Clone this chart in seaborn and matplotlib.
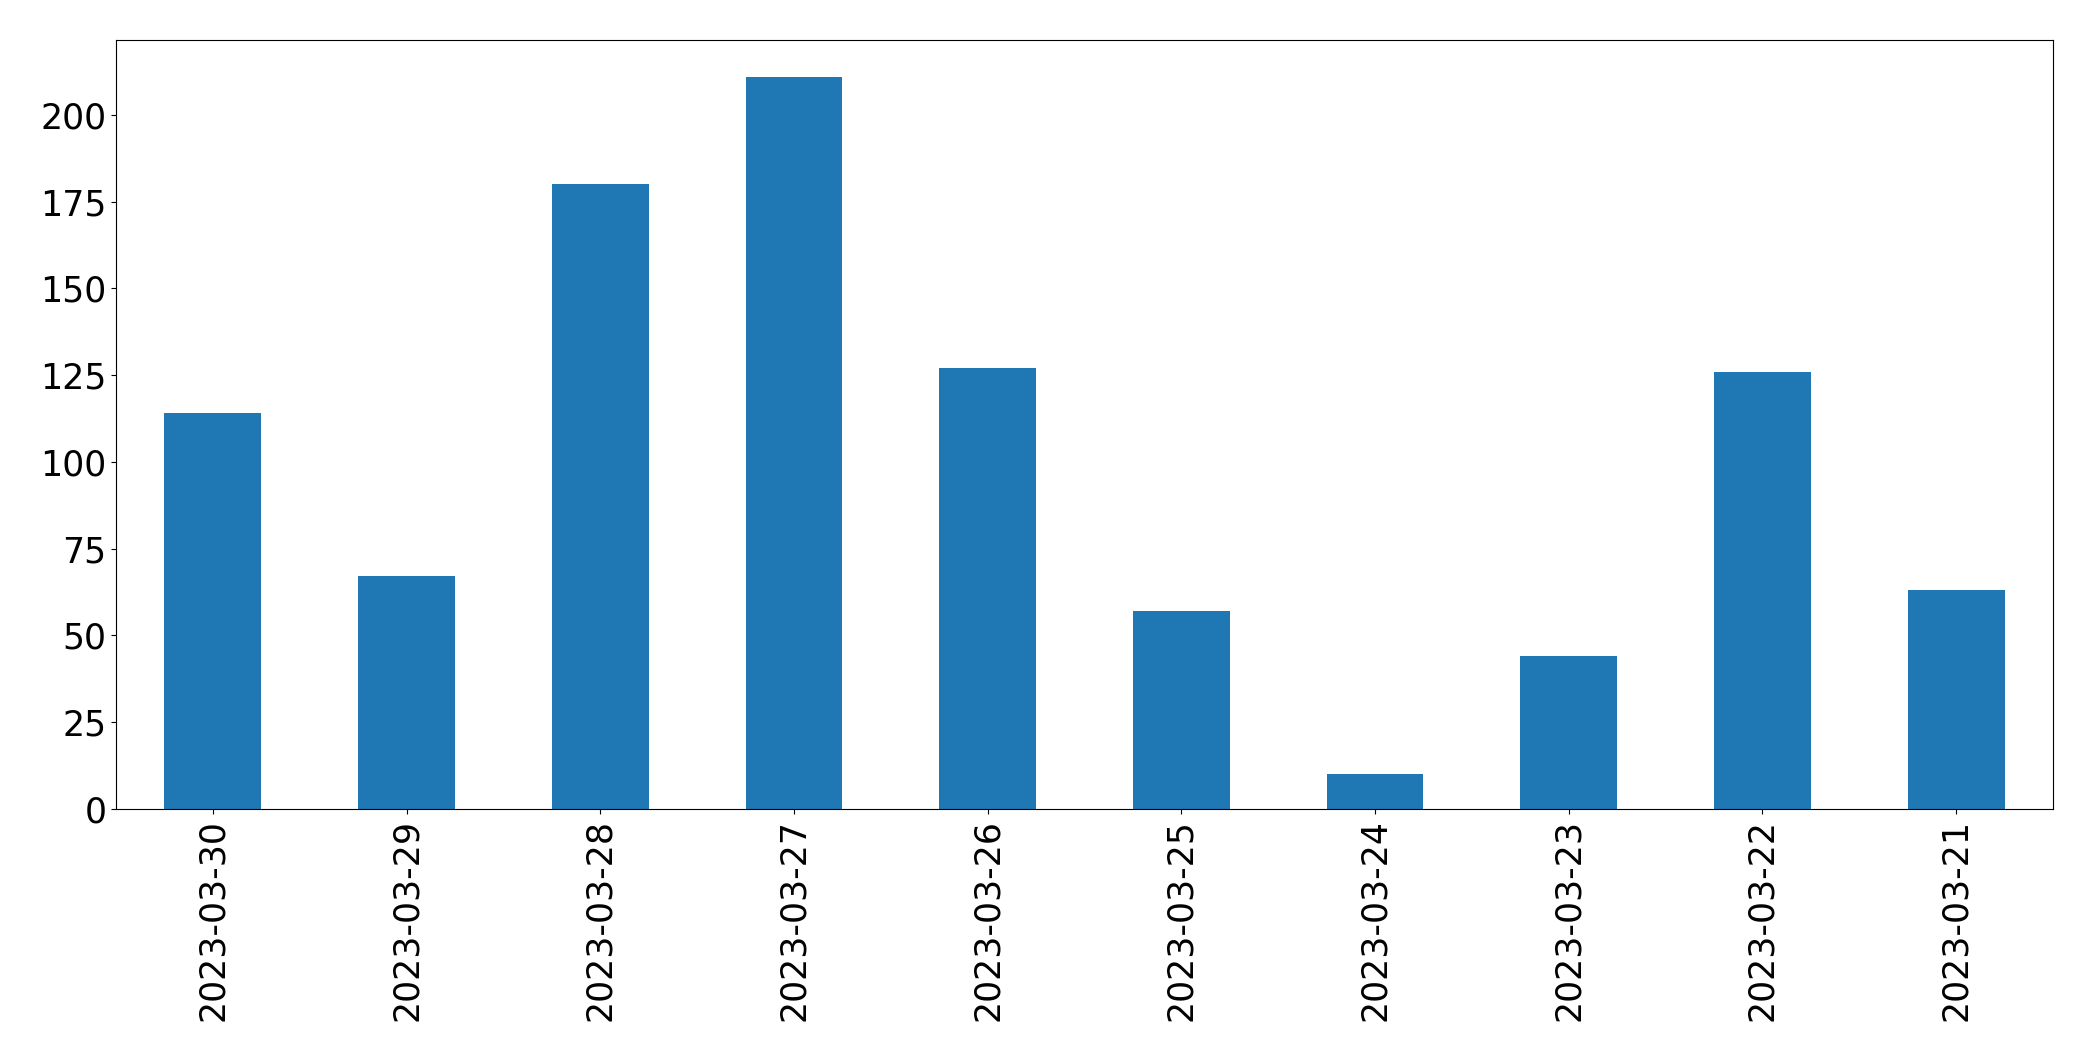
import matplotlib
matplotlib.use("Agg")
import matplotlib.pyplot as plt
import seaborn as sns
import pandas as pd

dates = ["2023-03-30", "2023-03-29", "2023-03-28", "2023-03-27", "2023-03-26",
         "2023-03-25", "2023-03-24", "2023-03-23", "2023-03-22", "2023-03-21"]
counts = [114, 67, 180, 211, 127, 57, 10, 44, 126, 63]

df = pd.DataFrame({"date": dates, "count": counts})

fig, ax = plt.subplots(figsize=(20.93, 10.61), dpi=100)
fig.subplots_adjust(left=116/2093, right=2053/2093, top=1-40/1061, bottom=1-809/1061)

sns.barplot(data=df, x="date", y="count", order=dates, color="#1f77b4",
            saturation=1, width=0.5, ax=ax)

ax.set_xlim(-0.5, len(dates) - 0.5)
ax.set_ylim(0, max(counts) * 1.05)
ax.set_xlabel("")
ax.set_ylabel("")
ax.tick_params(axis="both", labelsize=25)
ax.tick_params(axis="x", rotation=90)
for s in ax.spines.values():
    s.set_visible(True)
    s.set_color("black")

fig.savefig("out.png", dpi=100)
